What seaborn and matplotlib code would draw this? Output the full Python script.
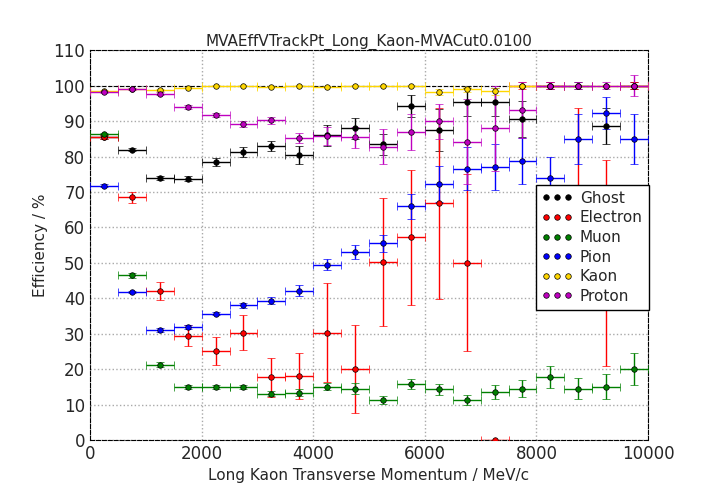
import numpy as np
import matplotlib
matplotlib.use("Agg")
import matplotlib.pyplot as plt
import seaborn as sns
from matplotlib.lines import Line2D

sns.set_style("white")
plt.rcParams['font.family'] = ['DejaVu Sans']

x = np.arange(250, 10000, 500)

ghost = [85.5, 82, 74, 73.8, 78.5, 81.3, 83, 80.5, 86, 88, 83.5, 94.3, 87.5, 95.5, 95.5, 90.6, 100, 100, 88.6, 100]
ghost_err = [0.5, 0.5, 0.5, 0.8, 1, 1.5, 1.5, 2.5, 3, 3, 3, 3, 6, 4, 4, 5, 1, 1, 5, 1]
electron = [85.5, 68.5, 42, 29.5, 25.2, 30.3, 17.7, 18.2, 30.3, 20, 50.2, 57.2, 66.8, 50, 0, 100, 100, 66.7, 50, 100]
electron_err = [0.5, 1.5, 2.5, 3, 4, 5, 5.5, 6.5, 14, 12.5, 18, 19, 27, 25, 0, 1, 1, 27, 29, 1]
muon = [86.3, 46.5, 21.3, 15, 15, 15, 13, 13.3, 15, 14.5, 11.3, 15.8, 14.3, 11.3, 13.5, 14.5, 17.8, 14.5, 15, 20]
muon_err = [0.5, 0.7, 0.7, 0.5, 0.5, 0.5, 0.7, 1, 1, 1.5, 1, 1.5, 1.5, 1.5, 2, 2.5, 3, 3, 3.5, 4.5]
pion = [71.8, 41.8, 31, 31.9, 35.7, 38, 39.3, 42.2, 49.5, 53, 55.5, 66, 72.3, 76.6, 77.2, 78.8, 74, 85, 92.3, 85]
pion_err = [0.4, 0.4, 0.5, 0.5, 0.5, 0.7, 1, 1.5, 1.5, 2, 2.5, 3.5, 5, 6, 6.5, 6.5, 6, 7, 4.5, 7]
kaon = [98.5, 99, 98.7, 99.5, 100, 100, 99.8, 100, 99.8, 100, 100, 100, 98.3, 99, 98.5, 100, 100, 100, 100, 100]
kaon_err = [0.3, 0.3, 0.3, 0.2, 0.1, 0.1, 0.2, 0.1, 0.2, 0.1, 0.1, 0.1, 0.8, 0.8, 1, 0.3, 0.3, 0.3, 0.3, 0.3]
proton = [98.3, 99, 97.8, 94, 91.8, 89.3, 90.3, 85.3, 85.8, 85.5, 82.8, 87, 90, 84.2, 88, 93.2, 100, 100, 100, 100]
proton_err = [0.3, 0.3, 0.5, 0.5, 0.5, 0.8, 1, 1.5, 2.5, 3, 5, 5, 5, 12, 12, 8, 1, 1, 1, 3]

names = ["Ghost", "Electron", "Muon", "Pion", "Kaon", "Proton"]
series = [ghost, electron, muon, pion, kaon, proton]
errs = [ghost_err, electron_err, muon_err, pion_err, kaon_err, proton_err]
colors = ["black", "red", "green", "blue", "gold", "m"]

fig, ax = plt.subplots(figsize=(7.2, 5.04), dpi=100)
handles = []
for name, y, e, c in zip(names, series, errs, colors):
    ax.errorbar(x, y, xerr=250, yerr=e, fmt='o', color=c, ecolor=c, mec='black',
                mew=0.5, ms=4, capsize=3, elinewidth=1, zorder=3)
    handles.append(Line2D([], [], ls='none', marker='o', color=c, mec='black', mew=0.5, ms=4))

ax.axhline(100, color='black', ls='--', lw=0.8, zorder=1)
ax.set_xlim(0, 10000)
ax.set_ylim(0, 110)
ax.set_yticks(range(0, 111, 10))
ax.grid(True, ls=':', color='darkgray', lw=1)
for s in ax.spines.values():
    s.set_linestyle('--')
    s.set_color('black')
ax.tick_params(labelsize=12, direction='in')
ax.set_title("MVAEffVTrackPt_Long_Kaon-MVACut0.0100", fontsize=11, pad=3)
ax.set_xlabel("Long Kaon Transverse Momentum / MeV/c", fontsize=11)
ax.set_ylabel("Efficiency / %", fontsize=11)
leg = ax.legend(handles, names, numpoints=3, loc='upper left', bbox_to_anchor=(0.785, 0.675),
                fontsize=11, fancybox=False, framealpha=1, borderpad=0.4,
                handletextpad=0.5, labelspacing=0.3)
leg.get_frame().set_edgecolor('black')
plt.subplots_adjust(left=0.125, right=0.9, top=0.9, bottom=0.127)
plt.savefig("out.png")
